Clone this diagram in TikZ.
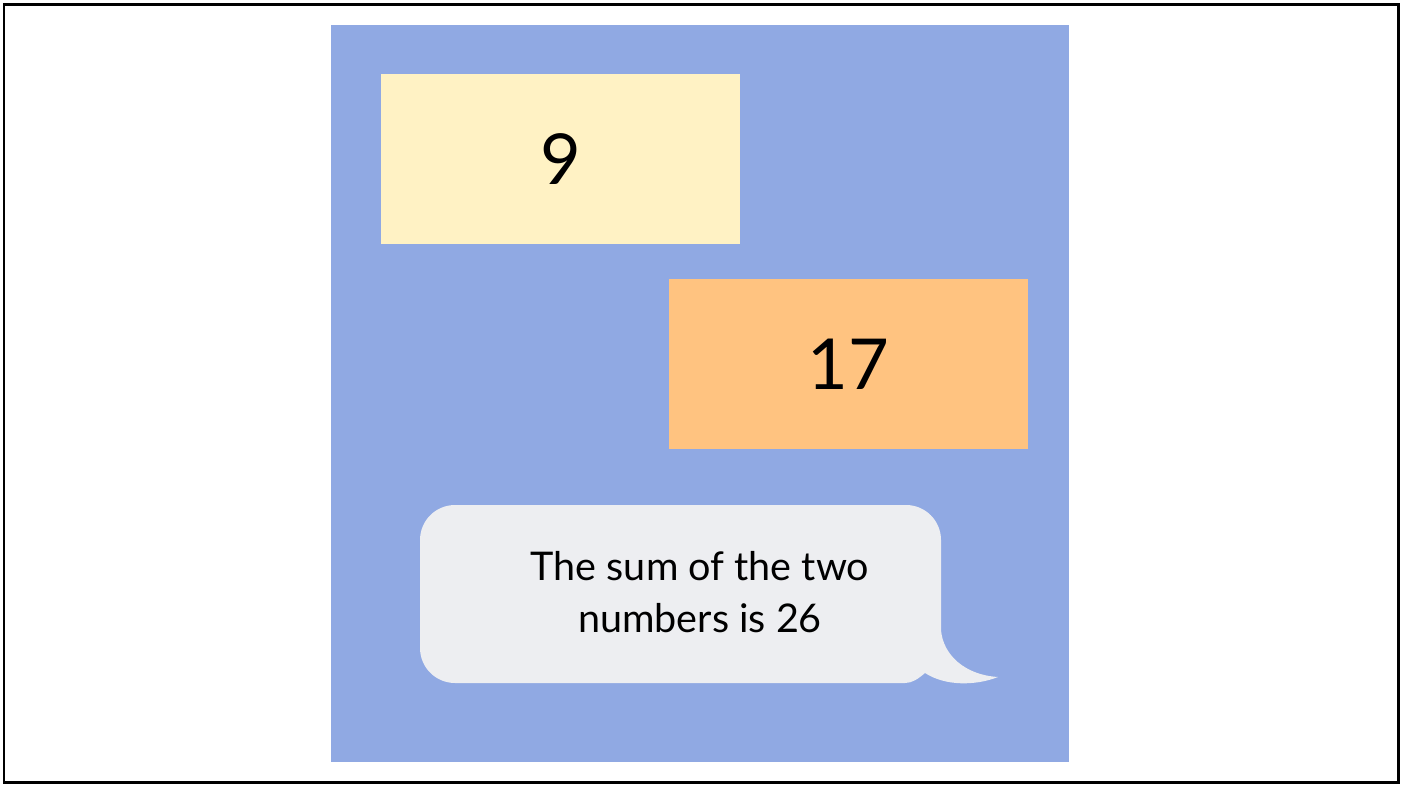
\documentclass[tikz,border=0pt]{standalone}
\usepackage{fontspec}
\setmainfont{Lato}
\definecolor{bgblue}{HTML}{90A9E3}
\definecolor{cardyellow}{HTML}{FFF2C4}
\definecolor{cardorange}{HTML}{FFC380}
\definecolor{bubblegray}{HTML}{EDEEF1}
\tikzset{
  card/.style={minimum width=7.18cm, minimum height=3.4cm, inner sep=0pt, font=\fontsize{40}{48}\selectfont},
}
\begin{document}
\begin{tikzpicture}[x=0.02cm, y=-0.02cm]
    \useasboundingbox (0,0) rectangle (1402,784);
    \draw[line width=0.06cm] (4,5) rectangle (1398,782);
    \fill[bgblue] (331,25) rectangle (1069,762);

    \node[card, fill=cardyellow] (nine) at (560.5,159) {9};
    \node[card, fill=cardorange] (seventeen) at (848.5,364) {17};

    % speech bubble with its tail
    \fill[bubblegray] (420,540) arc[start angle=180, end angle=270, radius=35] -- (906,505)
        arc[start angle=270, end angle=360, radius=35] -- (941,630)
        .. controls (943,655) and (965,675) .. (998,677)
        .. controls (975,686) and (945,686) .. (925,673)
        .. controls (918,679) and (912,683) .. (905,683) -- (455,683)
        arc[start angle=90, end angle=180, radius=35] -- cycle;
    \node[align=center, font=\fontsize{22.5}{30}\selectfont] (sum) at (700,592) {The sum of the two\\numbers is 26};
\end{tikzpicture}
\end{document}
